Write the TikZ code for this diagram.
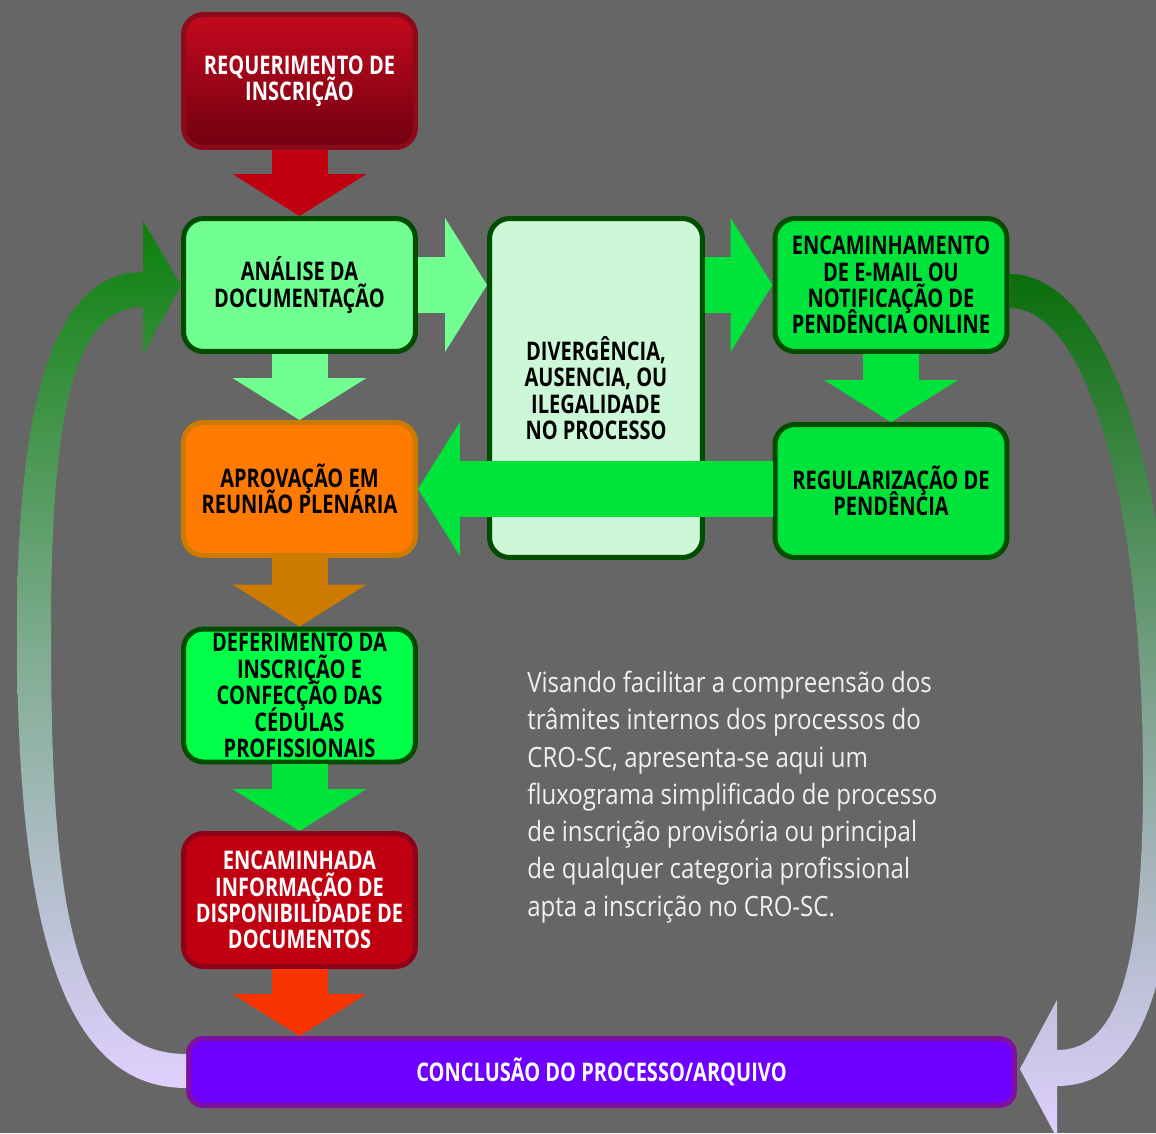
\documentclass[tikz,border=0pt]{standalone}
\usepackage{fontspec}
\setmainfont{Open Sans}
\newfontfamily\boxfont[FakeStretch=0.78]{Open Sans}
\newfontfamily\notefont[FakeStretch=0.86]{Open Sans}

\definecolor{bggray}{HTML}{666666}
\definecolor{redtop}{HTML}{C40A1E}
\definecolor{redbot}{HTML}{700010}
\definecolor{redline}{HTML}{8C0A1A}
\definecolor{darkline}{HTML}{004D00}
\definecolor{lightgreen}{HTML}{70FF90}
\definecolor{palegreen}{HTML}{CCF8D8}
\definecolor{midgreen}{HTML}{00E33A}
\definecolor{brightgreen}{HTML}{00FF48}
\definecolor{orangefill}{HTML}{FF7A00}
\definecolor{orangeline}{HTML}{CC7A00}
\definecolor{redfill}{HTML}{C00010}
\definecolor{redline2}{HTML}{900018}
\definecolor{redorange}{HTML}{F83400}
\definecolor{purplefill}{HTML}{6E00FF}
\definecolor{purpleline}{HTML}{8010A0}
\definecolor{lavender}{HTML}{E0D0FF}
\definecolor{loopgreen}{HTML}{0C800C}
\definecolor{loopgreen2}{HTML}{0A6E0A}
\definecolor{notegray}{HTML}{F0F0F0}

% block arrows (1 unit = 1px of the reference)
\newcommand{\flowdown}[3]{%
  \coordinate (tip) at (#2.south |- #3.north);
  \fill[#1] ([shift={(-28,0)}]#2.south) rectangle ([shift={(28,-41)}]tip);
  \fill[#1] ([shift={(-67,-42)}]tip) -- (tip) -- ([shift={(67,-42)}]tip) -- cycle;
}
\newcommand{\flowright}[3]{%
  \fill[#1] ([shift={(0,-28)}]#2) rectangle ([shift={(-41,28)}]#3);
  \fill[#1] ([shift={(-42,-67)}]#3) -- (#3) -- ([shift={(-42,67)}]#3) -- cycle;
}
\newcommand{\flowleft}[3]{%
  \fill[#1] ([shift={(0,-28)}]#2) rectangle ([shift={(41,28)}]#3);
  \fill[#1] ([shift={(42,-67)}]#3) -- (#3) -- ([shift={(42,67)}]#3) -- cycle;
}
\newcommand{\tightlines}{\lineskiplimit=-20pt\relax}

\tikzset{
  stage/.style={rounded corners=4mm, line width=1mm, draw=darkline, inner sep=0pt,
    minimum width=46.4mm, minimum height=26.6mm, align=center,
    font=\boxfont\bfseries\fontsize{14.6}{15}\selectfont\tightlines},
  whitetext/.style={text=white}
}

\begin{document}
\begin{tikzpicture}[x=0.02cm, y=-0.02cm]
    \useasboundingbox (0,0) rectangle (1156,1133);
    \clip (0,0) rectangle (1156,1133);
    \fill[bggray] (0,0) rectangle (1156,1133);

    % boxes
    \node[stage, draw=redline, top color=redtop, bottom color=redbot, whitetext] (req) at (299.5,81) {REQUERIMENTO DE\\INSCRIÇÃO};
    \node[stage, fill=lightgreen] (ana) at (299.5,285) {ANÁLISE DA\\DOCUMENTAÇÃO};
    \node[stage, fill=palegreen, minimum width=42.6mm, minimum height=67.8mm] (div) at (596,388) {DIVERGÊNCIA,\\AUSENCIA, OU\\ILEGALIDADE\\NO PROCESSO};
    \node[stage, fill=midgreen] (enc) at (891,285) {ENCAMINHAMENTO\\DE E-MAIL OU\\NOTIFICAÇÃO DE\\PENDÊNCIA ONLINE};
    \node[stage, draw=orangeline, fill=orangefill] (apr) at (299.5,489) {APROVAÇÃO EM\\REUNIÃO PLENÁRIA};
    \node[stage, fill=midgreen] (reg) at (891,491) {REGULARIZAÇÃO DE\\PENDÊNCIA};
    \node[stage, fill=brightgreen] (def) at (299.5,695.5) {DEFERIMENTO DA\\INSCRIÇÃO E\\CONFECÇÃO DAS\\CÉDULAS\\PROFISSIONAIS};
    \node[stage, draw=redline2, fill=redfill, whitetext] (inf) at (299.5,900) {ENCAMINHADA\\INFORMAÇÃO DE\\DISPONIBILIDADE DE\\DOCUMENTOS};
    \node[stage, draw=purpleline, fill=purplefill, whitetext, rounded corners=3mm,
          minimum width=165.2mm, minimum height=13.4mm] (con) at (601.5,1072) {CONCLUSÃO DO PROCESSO/ARQUIVO};

    % loop back: conclusion -> analysis
    \shade[top color=loopgreen, bottom color=lavender, middle color=loopgreen!45!lavender]
        ([shift={(0,16)}]con.west) .. controls (55,1088) and (17,905) .. (17,630)
        .. controls (17,390) and (58,272) .. ([shift={(-38,-13)}]ana.west)
        -- ([shift={(-38,-64)}]ana.west) -- (ana.west) -- ([shift={(-38,70)}]ana.west)
        -- ([shift={(-38,22)}]ana.west) .. controls (75,307) and (51,410) .. (51,630)
        .. controls (51,890) and (68,1054) .. ([shift={(0,-18)}]con.west) -- cycle;
    % loop: notification -> conclusion
    \shade[top color=loopgreen2, bottom color=lavender, middle color=loopgreen2!45!lavender]
        ([shift={(0,-11)}]enc.east) .. controls (1110,274) and (1177,490) .. (1177,780)
        .. controls (1177,1010) and (1130,1086) .. (1057,1086)
        -- (1057,1138) -- ([shift={(3,-3)}]con.east) -- (1057,1000)
        -- (1057,1050) .. controls (1110,1050) and (1143,990) .. (1143,780)
        .. controls (1143,510) and (1090,308) .. ([shift={(0,23)}]enc.east) -- cycle;

    % straight flow
    \foreach \a/\b/\c in {req/ana/redfill, ana/apr/lightgreen, apr/def/orangeline,
                          def/inf/midgreen, inf/con/redorange, enc/reg/midgreen}
        \flowdown{\c}{\a}{\b};

    \coordinate (ad) at (div.west |- ana.east);
    \coordinate (de) at (div.east |- enc.west);
    \coordinate (ra) at (reg.west |- apr.east);
    \flowright{lightgreen}{ana.east}{ad}
    \flowright{midgreen}{de}{enc.west}
    \flowleft{midgreen}{ra}{apr.east}

    % note
    \node[anchor=north west, inner sep=0pt, align=left, text=notegray,
          font=\notefont\fontsize{15.9}{21.2}\selectfont] (note) at (527,671)
        {Visando facilitar a compreensão dos\\
         trâmites internos dos processos do\\
         CRO-SC, apresenta-se aqui um\\
         fluxograma simplificado de processo\\
         de inscrição provisória ou principal\\
         de qualquer categoria profissional\\
         apta a inscrição no CRO-SC.};
\end{tikzpicture}
\end{document}
